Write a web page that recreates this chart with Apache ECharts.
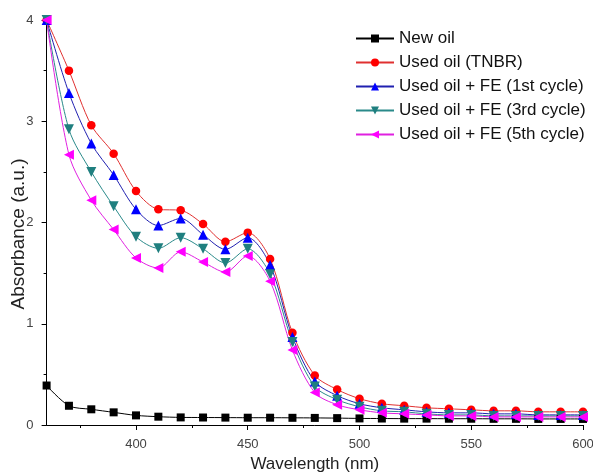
<!DOCTYPE html>
<html>
<head>
<meta charset="utf-8">
<script src="https://cdn.jsdelivr.net/npm/echarts@6/dist/echarts.min.js"></script>
<style>html,body{margin:0;padding:0;background:#fff;}#c{width:593px;height:472px;}</style>
</head>
<body>
<div id="c"></div>
<script>
const wavelength = [360,370,380,390,400,410,420,430,440,450,460,470,480,490,500,510,520,530,540,550,560,570,580,590,600];
const newOil   = [0.39,0.19,0.155,0.125,0.095,0.082,0.075,0.074,0.073,0.072,0.072,0.071,0.07,0.068,0.065,0.064,0.063,0.063,0.062,0.062,0.061,0.061,0.06,0.06,0.06];
const usedTNBR = [4.0,3.50,2.96,2.68,2.31,2.13,2.12,1.985,1.81,1.90,1.64,0.91,0.49,0.35,0.26,0.21,0.19,0.17,0.16,0.15,0.14,0.14,0.13,0.13,0.13];
const fe1      = [4.0,3.28,2.78,2.47,2.13,1.97,2.04,1.88,1.735,1.85,1.58,0.87,0.43,0.29,0.21,0.17,0.15,0.13,0.12,0.12,0.11,0.11,0.10,0.10,0.10];
const fe3      = [4.0,2.92,2.50,2.16,1.86,1.745,1.85,1.74,1.60,1.74,1.49,0.82,0.38,0.25,0.18,0.14,0.13,0.11,0.10,0.10,0.09,0.09,0.09,0.09,0.09];
const fe5      = [4.0,2.67,2.22,1.93,1.65,1.55,1.71,1.61,1.51,1.67,1.42,0.74,0.32,0.20,0.15,0.12,0.11,0.10,0.09,0.09,0.08,0.08,0.08,0.08,0.08];
const xMajorTicks = [400,450,500,550,600];
const xMinorTicks = [375,425,475,525,575];
const seriesNames = ['New oil','Used oil (TNBR)','Used oil + FE (1st cycle)','Used oil + FE (3rd cycle)','Used oil + FE (5th cycle)'];
const yTitle = 'Absorbance (a.u.)';
const xTitle = 'Wavelength (nm)';

const pair = arr => wavelength.map((w,i)=>[w,arr[i]]);
const font = 'Liberation Sans, Arial, sans-serif';

function mk(name, data, color, lineColor, symbol, size, rotate){
  return {
    name, type:'line', data: pair(data), smooth:0.3,
    symbol, symbolSize:size, symbolRotate:rotate||0,
    lineStyle:{color:lineColor, width:1},
    itemStyle:{color:color, borderWidth:0},
    emphasis:{disabled:true}, animation:false, z:2
  };
}

const chart = echarts.init(document.getElementById('c'), null, {renderer:'canvas'});
chart.setOption({
  backgroundColor:'#fff',
  animation:false,
  grid:{left:46.6, right:10, top:20, bottom:47, containLabel:false, outerBoundsMode:'none'},
  legend:{
    orient:'vertical', left:355, top:30, padding:0, itemWidth:38, itemHeight:10, itemGap:7,
    textStyle:{fontFamily:font, fontSize:17, color:'#111'},
    data:seriesNames
  },
  graphic:[{
    type:'text', x:19, y:234, rotation:Math.PI/2,
    style:{text:yTitle, fontFamily:font, fontSize:19, fill:'#222', align:'center', verticalAlign:'middle'}
  }],
  xAxis:[{
    type:'value', min:360, max:600,
    name:xTitle, nameLocation:'middle', nameGap:25,
    nameTextStyle:{fontFamily:font, fontSize:17, color:'#222'},
    axisLine:{lineStyle:{color:'#000', width:1}},
    axisTick:{show:true, customValues:xMajorTicks, length:5, lineStyle:{color:'#000'}},
    axisLabel:{customValues:xMajorTicks, fontFamily:font, fontSize:13, color:'#444', margin:13},
    splitLine:{show:false}
  },{
    type:'value', min:360, max:600, position:'bottom', gridIndex:0,
    axisLine:{show:false},
    axisTick:{show:true, customValues:xMinorTicks, length:3, lineStyle:{color:'#000'}},
    axisLabel:{show:false}, splitLine:{show:false}
  }],
  yAxis:{
    type:'value', min:0, max:4, interval:1,
    axisLine:{show:true, lineStyle:{color:'#000', width:1}},
    axisTick:{show:true, length:5, lineStyle:{color:'#000'}},
    minorTick:{show:true, splitNumber:2, length:3, lineStyle:{color:'#000'}},
    axisLabel:{fontFamily:font, fontSize:13, color:'#444', margin:13},
    splitLine:{show:false}
  },
  series:[
    mk(seriesNames[0], newOil, '#000000', '#000000', 'rect', 8),
    mk(seriesNames[1], usedTNBR, '#ff0000', '#e03030', 'circle', 8.5),
    mk(seriesNames[2], fe1, '#0000ff', '#2020b0', 'triangle', 10),
    mk(seriesNames[3], fe3, '#1f7f7f', '#2a8a8a', 'triangle', 10, 180),
    mk(seriesNames[4], fe5, '#ff00ff', '#e020e0', 'triangle', 10, 90)
  ]
});
</script>
</body>
</html>
